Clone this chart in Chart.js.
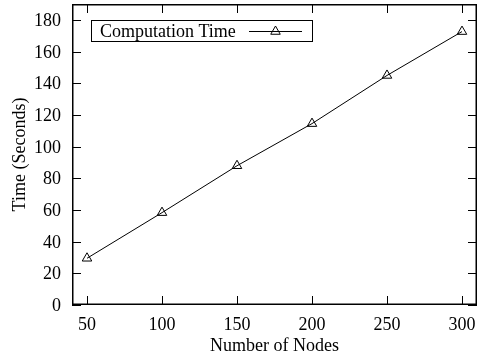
<!DOCTYPE html>
<html><head><meta charset="utf-8">
<script src="https://cdn.jsdelivr.net/npm/chart.js@4/dist/chart.umd.min.js"></script>
<style>html,body{margin:0;padding:0;background:#fff}#wrap{width:477px;height:357px}</style>
</head><body><div id="wrap"><canvas id="c" width="477" height="357"></canvas></div>
<script>
const nodes = [50, 100, 150, 200, 250, 300];
const computationTime = [29.5, 58.3, 87.9, 114.5, 144.9, 172.6];
const xTickValues = [50, 100, 150, 200, 250, 300];
const yTickValues = [0, 20, 40, 60, 80, 100, 120, 140, 160, 180];
const seriesLabel = 'Computation Time';
const xTitle = 'Number of Nodes';
const yTitle = 'Time (Seconds)';
const FONT = '18px "Liberation Serif", "Times New Roman", serif';

function tri(ctx, cx, cy, r) {
  ctx.beginPath();
  for (let i = 0; i < 3; i++) {
    const a = i * 2 * Math.PI / 3;
    const px = cx + Math.sin(a) * r, py = cy - Math.cos(a) * r;
    if (i === 0) ctx.moveTo(px, py); else ctx.lineTo(px, py);
  }
  ctx.closePath();
  ctx.stroke();
}

const gnuplotFrame = {
  id: 'gnuplotFrame',
  afterDatasetsDraw(chart) {
    const { ctx, chartArea: a, scales: { x, y } } = chart;
    ctx.save();
    ctx.strokeStyle = '#000';
    ctx.lineWidth = 1;
    const L = 9;
    ctx.beginPath();
    xTickValues.forEach(v => {
      const px = Math.round(x.getPixelForValue(v)) + 0.5;
      ctx.moveTo(px, a.bottom); ctx.lineTo(px, a.bottom - L);
      ctx.moveTo(px, a.top); ctx.lineTo(px, a.top + L);
    });
    yTickValues.forEach(v => {
      const py = Math.round(y.getPixelForValue(v)) + 0.5;
      ctx.moveTo(a.left, py); ctx.lineTo(a.left + L, py);
      ctx.moveTo(a.right, py); ctx.lineTo(a.right - L, py);
    });
    ctx.stroke();
    ctx.lineWidth = 1.5;
    ctx.strokeRect(a.left + 0.75, a.top + 0.75, a.right - a.left - 1.5, a.bottom - a.top - 1.5);

    ctx.fillStyle = '#000';
    ctx.font = FONT;
    ctx.textBaseline = 'alphabetic';
    ctx.textAlign = 'center';
    xTickValues.forEach(v => ctx.fillText(String(v), x.getPixelForValue(v), a.bottom + 25));
    ctx.textAlign = 'right';
    yTickValues.forEach(v => ctx.fillText(String(v), a.left - 11, y.getPixelForValue(v) + 6));
    ctx.textAlign = 'center';
    ctx.fillText(xTitle, (a.left + a.right) / 2, 351);
    ctx.save();
    ctx.translate(25, (a.top + a.bottom) / 2);
    ctx.rotate(-Math.PI / 2);
    ctx.fillText(yTitle, 0, 0);
    ctx.restore();

    // legend
    ctx.lineWidth = 1;
    ctx.strokeRect(91.5, 20.5, 221, 21);
    ctx.textAlign = 'left';
    ctx.fillText(seriesLabel, 100, 37);
    ctx.beginPath();
    ctx.moveTo(249, 31.5); ctx.lineTo(302, 31.5);
    ctx.stroke();
    tri(ctx, 275.5, 31.5, 5.5);
    ctx.restore();
  }
};

new Chart(document.getElementById('c'), {
  type: 'scatter',
  data: {
    datasets: [{
      label: seriesLabel,
      data: nodes.map((n, i) => ({ x: n, y: computationTime[i] })),
      showLine: true,
      borderColor: '#000',
      borderWidth: 1,
      pointStyle: 'triangle',
      pointRadius: 5.5,
      pointBorderColor: '#000',
      pointBorderWidth: 1,
      pointBackgroundColor: 'rgba(0,0,0,0)',
      tension: 0
    }]
  },
  options: {
    responsive: false,
    animation: false,
    devicePixelRatio: 1,
    layout: { autoPadding: false, padding: { left: 72, top: 4, right: 0, bottom: 52 } },
    plugins: { legend: { display: false }, tooltip: { enabled: false } },
    scales: {
      x: { type: 'linear', min: 40, max: 310, display: false },
      y: { type: 'linear', min: 0, max: 190, display: false }
    }
  },
  plugins: [gnuplotFrame]
});
</script>
</body></html>
